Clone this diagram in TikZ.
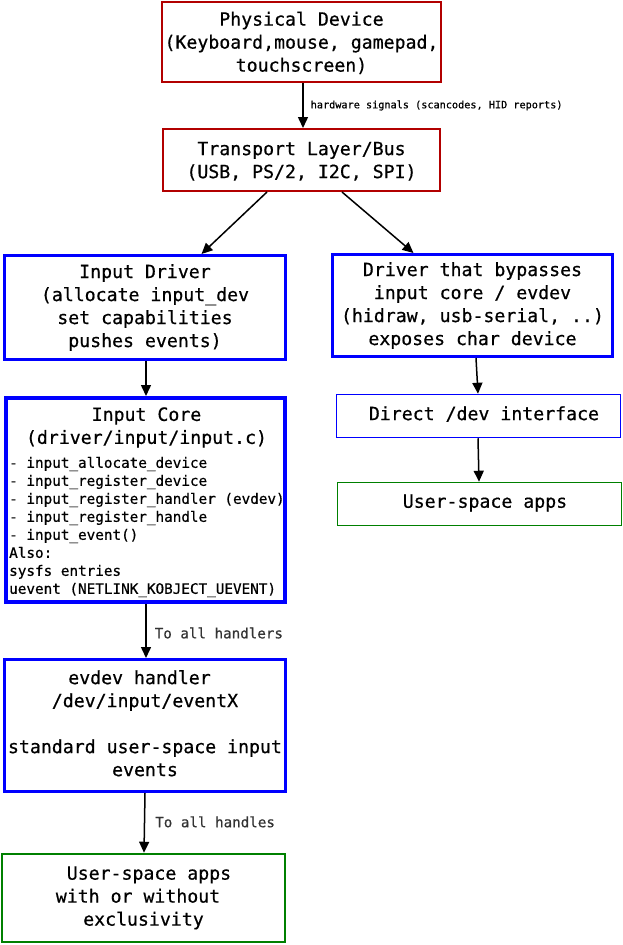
\documentclass[tikz,border=0pt]{standalone}
\usepackage{fontspec}
\setmonofont{DejaVu Sans Mono}[FakeBold=0.6]
\usetikzlibrary{arrows.meta}
\definecolor{boxred}{HTML}{B20000}
\definecolor{boxblue}{HTML}{0000FF}
\definecolor{boxgreen}{HTML}{008000}
\definecolor{lblgray}{HTML}{333333}
\newcommand{\mainfs}{\ttfamily\fontsize{18.2}{23}\selectfont}
\newcommand{\listfs}{\ttfamily\fontsize{14.3}{18}\selectfont}
\newcommand{\lblfs}{\ttfamily\fontsize{14.2}{17}\selectfont}
\newcommand{\tinyfs}{\ttfamily\fontsize{10.2}{12}\selectfont}
\newcommand{\padsp}{\hphantom{x}}
\newcommand{\shiftv}[2]{\raisebox{#1}[\height][\depth]{#2}}
\begin{document}
\begin{tikzpicture}[x=1pt,y=-1pt,
  box/.style n args={2}{rectangle, inner sep=0pt, align=center, font=\mainfs,
    minimum width=#1, minimum height=#2},
  redbox/.style={draw=boxred, line width=2pt},
  bluebox/.style={draw=boxblue, line width=3pt},
  thickblue/.style={draw=boxblue, line width=4pt},
  thinblue/.style={draw=boxblue, line width=1.5pt},
  thingreen/.style={draw=boxgreen, line width=1.5pt},
  greenbox/.style={draw=boxgreen, line width=2.5pt},
  conn/.style={-{Triangle[length=11pt,width=10pt]}, line width=1.5pt, black},
  lbl/.style={anchor=west, inner sep=0pt, font=\lblfs, text=lblgray}
]
\useasboundingbox (0,0) rectangle (623,945);

% boxes
\node[box={279pt}{80pt}, redbox] (phys) at (301.5,42)
  {\shiftv{-2pt}{\begin{tabular}{@{}c@{}}Physical Device\\(Keyboard,mouse, gamepad,\\touchscreen)\end{tabular}}};
\node[box={277pt}{62pt}, redbox] (trans) at (301.5,160)
  {\shiftv{-2pt}{\begin{tabular}{@{}c@{}}Transport Layer/Bus\\(USB, PS/2, I2C, SPI)\end{tabular}}};
\node[box={281pt}{104pt}, bluebox] (drv) at (145,307.5)
  {Input Driver\\(allocate input\_dev\\set capabilities\\pushes events)};
\node[box={280pt}{102pt}, bluebox] (byp) at (472.5,305.5)
  {Driver that bypasses\\input core / evdev\\(hidraw, usb-serial, ..)\\exposes char device};
\node[box={284pt}{43pt}, thinblue] (direct) at (478.5,416)
  {\shiftv{2pt}{\padsp Direct /dev interface}};
\node[box={284pt}{43pt}, thingreen] (appsR) at (479.5,504)
  {\shiftv{1pt}{\padsp User-space apps}};
\node[box={279pt}{204pt}, thickblue] (core) at (145.5,500) {};
\node[inner sep=0pt, align=center, font=\mainfs] (coretitle) at (146.5,427.5)
  {Input Core\\(driver/input/input.c)};
\node[inner sep=0pt, align=left, font=\listfs, anchor=west] (corelist) at (9,527)
  {- input\_allocate\_device\\- input\_register\_device\\- input\_register\_handler (evdev)\\- input\_register\_handle\\- input\_event()\\Also:\\sysfs entries\\uevent (NETLINK\_KOBJECT\_UEVENT)};
\node[box={281pt}{132pt}, bluebox] (evdev) at (145,725.5)
  {\begin{tabular}{@{}c@{}}evdev handler\padsp\\/dev/input/eventX\\[23pt]standard user-space input\\events\end{tabular}};
\node[box={283pt}{88pt}, greenbox] (appsB) at (143.5,898)
  {\begin{tabular}{@{}c@{}}\padsp User-space apps\\with or without\padsp\\exclusivity\end{tabular}};

% connectors
\draw[conn] ([xshift=1.5pt]phys.south) -- ([xshift=1.5pt]trans.north)
  node[midway, anchor=west, inner sep=0pt, xshift=7pt, font=\tinyfs] (hwlbl)
  {hardware signals (scancodes, HID reports)};
\draw[conn] ([xshift=105pt]trans.south west) -- ([xshift=198.5pt]drv.north west);
\draw[conn] ([xshift=180pt]trans.south west) -- ([xshift=82.5pt]byp.north west);
\draw[conn] ([xshift=1pt]drv.south) -- ([xshift=0.5pt]core.north);
\draw[conn] ([xshift=3.5pt]byp.south) -- ([xshift=-0.5pt]direct.north);
\draw[conn] ([xshift=-0.5pt]direct.south) -- ([xshift=-0.5pt]appsR.north);
\draw[conn] ([xshift=0.5pt]core.south) -- ([xshift=1pt]evdev.north)
  node[midway, lbl, xshift=8pt, yshift=-2pt] (lblA) {To all handlers};
\draw[conn] (evdev.south) -- ([xshift=0.5pt]appsB.north)
  node[midway, lbl, xshift=10pt, yshift=1pt] (lblB) {To all handles};
\end{tikzpicture}
\end{document}
